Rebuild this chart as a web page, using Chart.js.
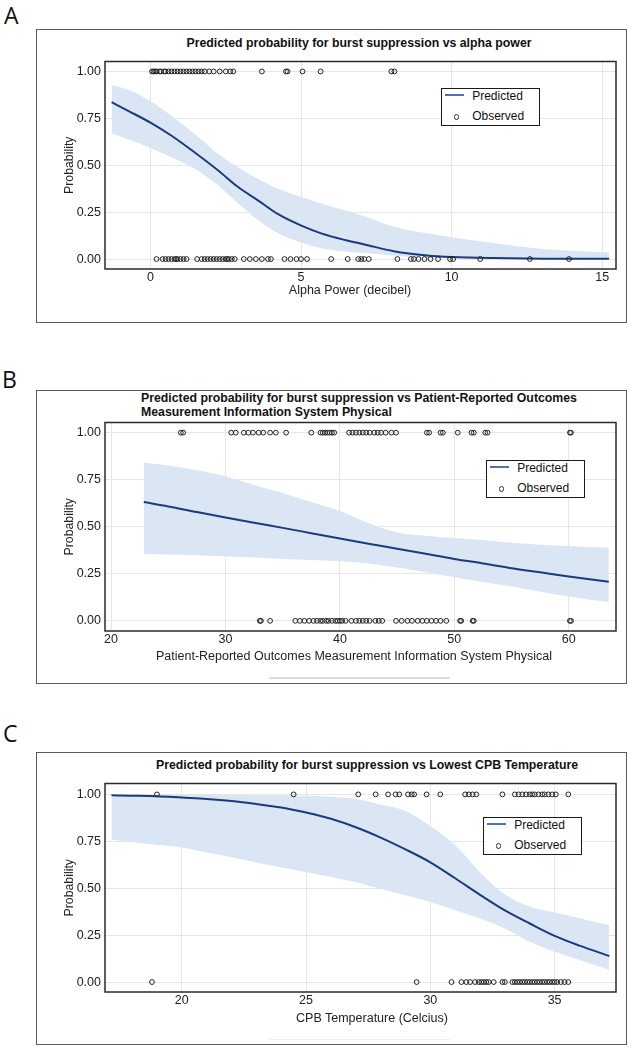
<!DOCTYPE html>
<html><head><meta charset="utf-8">
<script src="https://cdn.jsdelivr.net/npm/chart.js@4.4.1/dist/chart.umd.min.js"></script>
<style>
html,body{margin:0;padding:0;background:#fff;}
#page{position:relative;width:636px;height:1050px;overflow:hidden;font-family:'Liberation Sans',Arial,sans-serif;color:#222;}
.plabel{position:absolute;font-family:'Open Sans',sans-serif;font-size:23px;line-height:23px;color:#111;}
.box{position:absolute;left:36px;width:591px;border:1.5px solid #5a5a5a;box-sizing:border-box;}
.title{position:absolute;font-weight:bold;font-size:12.3px;line-height:14.6px;color:#111;white-space:nowrap;}
.xtitle{position:absolute;width:500px;text-align:center;font-size:12.5px;line-height:15px;color:#222;white-space:nowrap;}
canvas{position:absolute;left:37px;}
.legend{position:absolute;width:99px;height:38px;box-sizing:border-box;border:1.5px solid #1a1a1a;background:#fff;font-size:12px;color:#111;}
.legend .ll{position:absolute;left:2.5px;top:5.2px;width:19px;height:2px;background:#4f72b0;}
.legend .lc{position:absolute;left:11.7px;top:25px;width:5.5px;height:5.5px;box-sizing:border-box;border:1px solid #333;border-radius:50%;}
.legend .t1{position:absolute;left:30.2px;top:-0.1px;line-height:14px;}
.legend .t2{position:absolute;left:30.2px;top:19.9px;line-height:14px;}
.art{position:absolute;height:1.5px;}
</style>
</head>
<body>
<div id="page">
  <div class="plabel" style="left:4px;top:3.6px;">A</div>
  <div class="box" style="top:29px;height:294px;"></div>
  <div class="title" style="left:159px;width:400px;text-align:center;top:36px;">Predicted probability for burst suppression vs alpha power</div>
  <canvas id="cA" width="589" height="250" style="top:50px;"></canvas>
  <div class="xtitle" style="left:100px;top:282.5px;">Alpha Power (decibel)</div>
  <div class="legend" style="left:441px;top:88px;"><div class="ll"></div><div class="t1">Predicted</div><div class="lc"></div><div class="t2">Observed</div></div>

  <div class="plabel" style="left:2px;top:368px;">B</div>
  <div class="box" style="top:390px;height:294px;"></div>
  <div class="title" style="left:141px;top:390.5px;">Predicted probability for burst suppression vs Patient-Reported Outcomes<br>Measurement Information System Physical</div>
  <canvas id="cB" width="589" height="255" style="top:411px;"></canvas>
  <div class="xtitle" style="left:104px;top:648.5px;">Patient-Reported Outcomes Measurement Information System Physical</div>
  <div class="legend" style="left:486px;top:460px;"><div class="ll"></div><div class="t1">Predicted</div><div class="lc"></div><div class="t2">Observed</div></div>
  <div class="art" style="left:269px;width:181px;top:677px;background:#dcdcdc;"></div>

  <div class="plabel" style="left:3px;top:722px;">C</div>
  <div class="box" style="top:752px;height:293px;"></div>
  <div class="title" style="left:156px;width:400px;text-align:center;top:758px;">Predicted probability for burst suppression vs Lowest CPB Temperature</div>
  <canvas id="cC" width="589" height="256" style="top:772px;"></canvas>
  <div class="xtitle" style="left:122px;top:1010.8px;">CPB Temperature (Celcius)</div>
  <div class="legend" style="left:483px;top:817px;"><div class="ll"></div><div class="t1">Predicted</div><div class="lc"></div><div class="t2">Observed</div></div>
  <div class="art" style="left:269px;width:181px;top:1038.5px;background:#efefef;"></div>
</div>
<script>
// ---------- Shared ----------
const yTicks = [0, 0.25, 0.5, 0.75, 1];

// ---------- Panel A: alpha power ----------
const aCurveX = [-1.29, -0.74, 0, 0.7, 1.47, 2.25, 2.91, 3.57, 4.24, 5.01, 5.67, 6.45, 7.11, 8.08, 9.19, 10, 11.4, 13.05, 15.23];
const aPred   = [0.836, 0.79, 0.727, 0.657, 0.568, 0.472, 0.384, 0.313, 0.239, 0.178, 0.137, 0.102, 0.078, 0.042, 0.019, 0.011, 0.005, 0.002, 0.001];
const aUpper  = [0.926, 0.903, 0.842, 0.762, 0.666, 0.56, 0.489, 0.428, 0.375, 0.331, 0.296, 0.26, 0.228, 0.172, 0.137, 0.116, 0.085, 0.053, 0.035];
const aLower  = [0.669, 0.639, 0.592, 0.542, 0.481, 0.392, 0.296, 0.208, 0.137, 0.088, 0.058, 0.04, 0.032, 0.018, 0.008, 0.004, 0.002, 0.001, 0.0];
const aObs1 = [0.05, 0.1, 0.15, 0.2, 0.3, 0.35, 0.45, 0.5, 0.6, 0.7, 0.8, 0.9, 1.0, 1.1, 1.2, 1.3, 1.4, 1.5, 1.6, 1.7, 1.8, 1.95, 2.1, 2.3, 2.5, 2.65, 2.75, 3.7, 4.5, 4.55, 5.05, 5.65, 8.0, 8.1];
const aObs0 = [0.2, 0.4, 0.5, 0.6, 0.7, 0.8, 0.85, 0.9, 1.0, 1.1, 1.2, 1.55, 1.7, 1.8, 1.9, 2.0, 2.1, 2.2, 2.3, 2.4, 2.5, 2.55, 2.6, 2.7, 2.8, 3.1, 3.3, 3.5, 3.7, 3.9, 4.0, 4.45, 4.65, 4.85, 5.0, 5.2, 6.0, 6.55, 6.9, 7.0, 7.1, 7.25, 8.2, 8.65, 8.75, 8.9, 9.1, 9.3, 9.55, 9.95, 10.05, 10.95, 12.6, 13.9];
const aXTicks = [0, 5, 10, 15];

// ---------- Panel B: PROMIS Physical ----------
const bCurveX = [22.86, 25, 27.5, 30, 32.5, 35, 37.5, 40, 42.5, 45, 47.5, 50, 52.5, 55, 57.5, 60, 63.5];
const bPred   = [0.631, 0.608, 0.578, 0.549, 0.521, 0.494, 0.466, 0.438, 0.41, 0.383, 0.356, 0.329, 0.305, 0.28, 0.258, 0.236, 0.208];
const bUpper  = [0.842, 0.825, 0.80, 0.768, 0.722, 0.68, 0.632, 0.584, 0.52, 0.47, 0.452, 0.44, 0.43, 0.415, 0.405, 0.397, 0.39];
const bLower  = [0.355, 0.352, 0.348, 0.343, 0.336, 0.329, 0.323, 0.316, 0.305, 0.283, 0.258, 0.232, 0.207, 0.183, 0.155, 0.13, 0.10];
const bObs1 = [26.1, 26.3, 30.5, 30.9, 31.6, 32.0, 32.4, 32.9, 33.3, 33.9, 34.4, 35.3, 37.5, 38.3, 38.5, 38.7, 38.9, 39.1, 39.3, 39.5, 40.8, 41.1, 41.4, 41.7, 42.0, 42.3, 42.6, 43.0, 43.3, 43.6, 44.0, 44.5, 44.9, 47.6, 47.8, 48.8, 49.0, 50.3, 51.5, 51.7, 52.7, 52.9, 60.1, 60.2];
const bObs0 = [33.0, 33.1, 33.9, 36.1, 36.5, 36.9, 37.3, 37.7, 38.0, 38.3, 38.5, 38.8, 39.0, 39.3, 39.6, 39.8, 40.0, 40.2, 40.5, 41.0, 41.4, 41.7, 42.0, 42.3, 42.6, 43.1, 43.4, 43.7, 44.9, 45.4, 45.9, 46.3, 46.8, 47.2, 47.6, 48.0, 48.4, 48.8, 49.3, 50.5, 50.6, 51.6, 51.7, 60.1, 60.2];
const bXTicks = [20, 30, 40, 50, 60];

// ---------- Panel C: lowest CPB temperature ----------
const cCurveX = [17.17, 18, 19, 20, 21, 22, 23, 24, 25, 26, 27, 28, 29, 30, 31, 32, 33, 34, 35, 36, 37.2];
const cPred   = [0.995, 0.993, 0.99, 0.983, 0.976, 0.965, 0.949, 0.93, 0.903, 0.87, 0.825, 0.77, 0.707, 0.638, 0.553, 0.465, 0.382, 0.312, 0.246, 0.194, 0.139];
const cUpper  = [0.998, 0.998, 0.998, 0.998, 0.998, 0.997, 0.996, 0.995, 0.993, 0.988, 0.975, 0.945, 0.912, 0.832, 0.73, 0.585, 0.466, 0.402, 0.37, 0.34, 0.303];
const cLower  = [0.758, 0.746, 0.731, 0.717, 0.69, 0.665, 0.637, 0.61, 0.585, 0.56, 0.532, 0.497, 0.462, 0.426, 0.383, 0.339, 0.286, 0.215, 0.162, 0.118, 0.065];
const cObs1 = [19.0, 24.5, 27.1, 27.8, 28.3, 28.6, 28.75, 29.1, 29.25, 29.35, 29.85, 30.4, 31.4, 31.55, 31.7, 31.85, 32.9, 33.4, 33.55, 33.7, 33.85, 34.0, 34.1, 34.2, 34.35, 34.5, 34.6, 34.75, 34.9, 35.05, 35.55];
const cObs0 = [18.8, 29.45, 30.85, 31.25, 31.45, 31.6, 31.8, 31.95, 32.05, 32.15, 32.25, 32.35, 32.55, 32.9, 33.0, 33.3, 33.4, 33.5, 33.6, 33.7, 33.8, 33.9, 34.0, 34.1, 34.2, 34.3, 34.4, 34.5, 34.6, 34.7, 34.8, 34.9, 35.0, 35.1, 35.25, 35.4, 35.55];
const cXTicks = [20, 25, 30, 35];

// ---------- Drawing ----------
Chart.defaults.font.family = "'Liberation Sans', Arial, sans-serif";
Chart.defaults.color = '#222';

const BAND = 'rgb(218,230,244)';
const LINE = 'rgb(28,58,124)';
const CLEAR = 'rgba(0,0,0,0)';

const framePlugin = {
  id: 'frame',
  afterDatasetsDraw(chart) {
    const {ctx, chartArea: {left, top, right, bottom}} = chart;
    ctx.save();
    ctx.strokeStyle = '#2b2b2b';
    ctx.lineWidth = 1.5;
    ctx.strokeRect(left, top, right - left, bottom - top);
    ctx.restore();
  }
};

function pts(xs, ys) { return xs.map((x, i) => ({x: x, y: ys[i]})); }
function obs(xs, y) { return xs.map(x => ({x: x, y: y})); }

function build(id, p) {
  const lineBase = {showLine: true, pointRadius: 0, cubicInterpolationMode: 'monotone'};
  const obsBase = {pointRadius: 2.4, pointBorderWidth: 1, pointBorderColor: '#222', pointBackgroundColor: CLEAR, borderColor: '#222', backgroundColor: CLEAR, showLine: false, order: 1};
  new Chart(document.getElementById(id), {
    type: 'scatter',
    data: {datasets: [
      Object.assign({}, lineBase, {data: pts(p.x, p.upper), fill: '+1', backgroundColor: BAND, borderColor: CLEAR, borderWidth: 0, order: 3}),
      Object.assign({}, lineBase, {data: pts(p.x, p.lower), fill: false, backgroundColor: CLEAR, borderColor: CLEAR, borderWidth: 0, order: 4}),
      Object.assign({}, lineBase, {data: pts(p.x, p.pred), fill: false, borderColor: LINE, borderWidth: 2, backgroundColor: CLEAR, order: 2}),
      Object.assign({}, obsBase, {data: obs(p.obs1, 1)}),
      Object.assign({}, obsBase, {data: obs(p.obs0, 0)})
    ]},
    options: {
      responsive: false, animation: false, devicePixelRatio: 1, events: [],
      layout: {padding: {top: 10, right: 10, left: 0, bottom: 0}},
      plugins: {legend: {display: false}, tooltip: {enabled: false}, title: {display: false}},
      scales: {
        x: {
          type: 'linear', min: p.xmin, max: p.xmax,
          afterBuildTicks: s => { s.ticks = p.xticks.map(v => ({value: v})); },
          afterFit: s => { s.height = p.xh; },
          grid: {color: '#e6e6e6', lineWidth: 1, drawTicks: false},
          border: {display: false},
          ticks: {padding: 1.3, color: '#222', font: {size: 12.5}, maxRotation: 0, callback: v => String(v)},
          title: {display: false}
        },
        y: {
          type: 'linear', min: p.ymin, max: p.ymax,
          afterBuildTicks: s => { s.ticks = yTicks.map(v => ({value: v})); },
          afterFit: s => { s.width = 68; },
          grid: {color: '#e6e6e6', lineWidth: 1, drawTicks: false},
          border: {display: false},
          ticks: {padding: 4, color: '#222', font: {size: 12.5}, callback: v => Number(v).toFixed(2)},
          title: {display: true, text: 'Probability', color: '#222', font: {size: 12.3}, padding: {top: 25.6, bottom: 0}}
        }
      }
    },
    plugins: [framePlugin]
  });
}

build('cA', {x: aCurveX, pred: aPred, upper: aUpper, lower: aLower, obs1: aObs1, obs0: aObs0,
  xticks: aXTicks, xmin: -1.51, xmax: 15.46, ymin: -0.053, ymax: 1.053, xh: 31});
build('cB', {x: bCurveX, pred: bPred, upper: bUpper, lower: bLower, obs1: bObs1, obs0: bObs0,
  xticks: bXTicks, xmin: 19.47, xmax: 64.13, ymin: -0.054, ymax: 1.054, xh: 35});
build('cC', {x: cCurveX, pred: cPred, upper: cUpper, lower: cLower, obs1: cObs1, obs0: cObs0,
  xticks: cXTicks, xmin: 16.91, xmax: 37.47, ymin: -0.053, ymax: 1.058, xh: 36});
</script>
</body></html>
